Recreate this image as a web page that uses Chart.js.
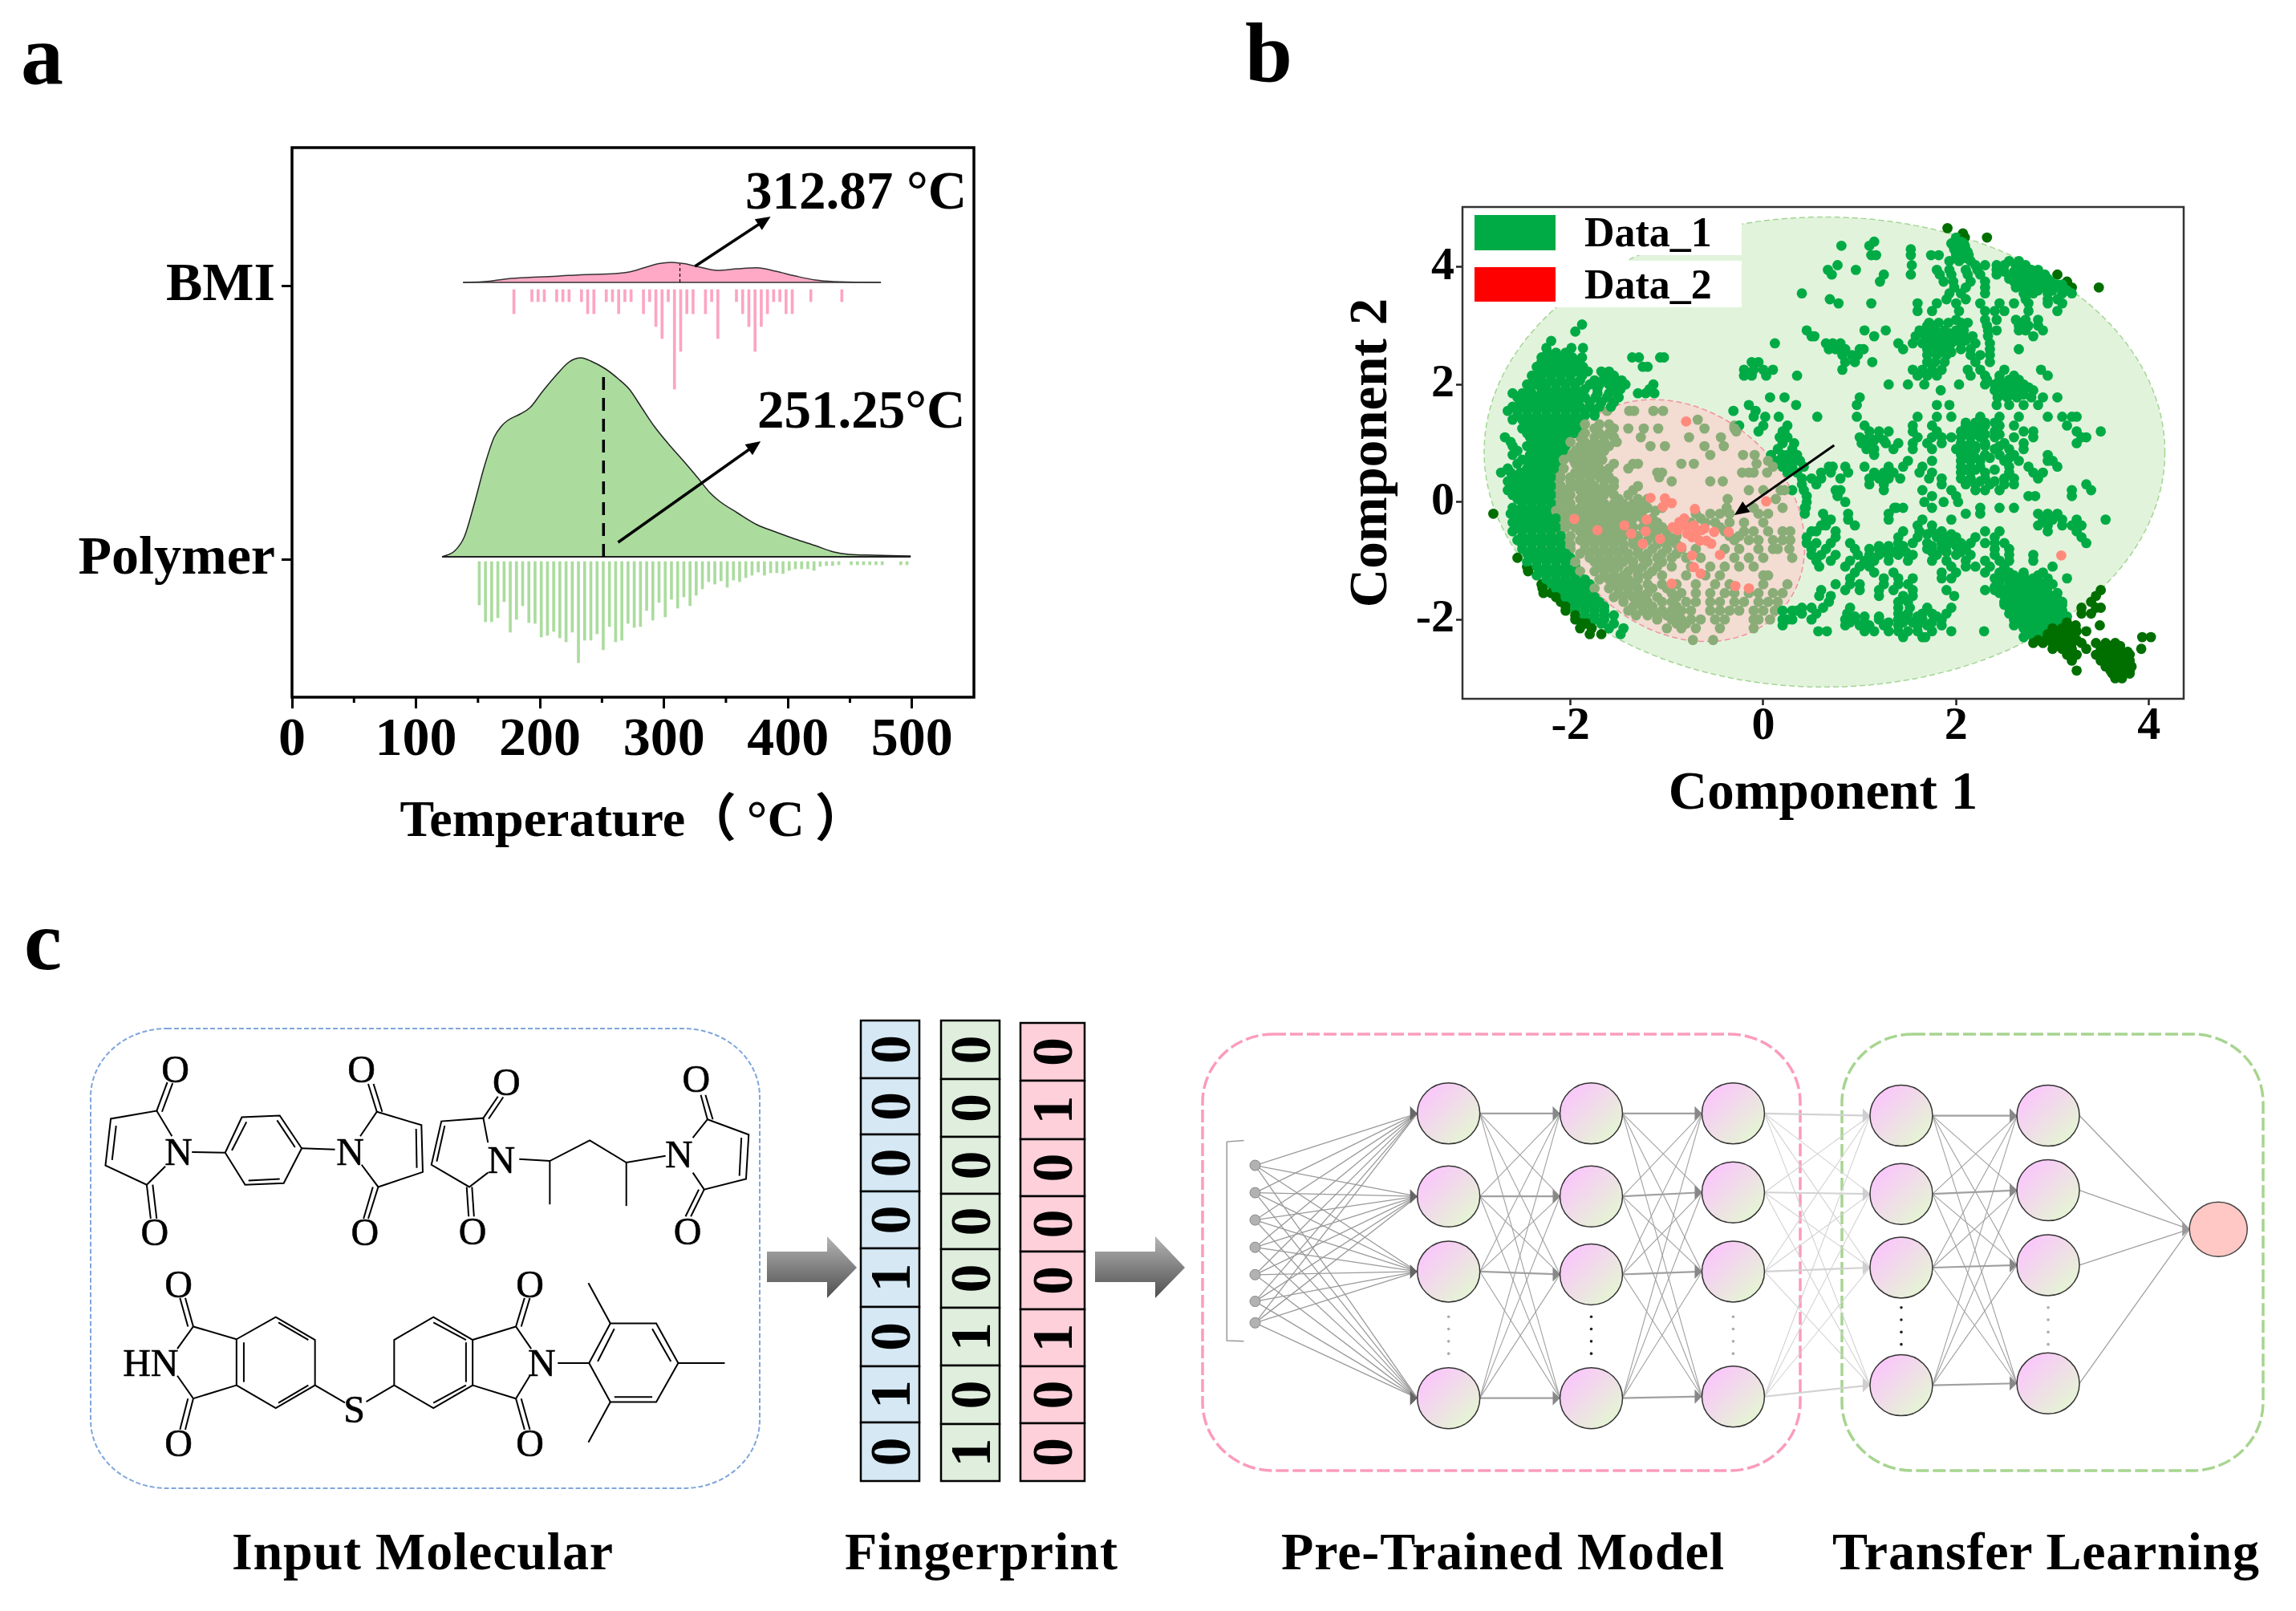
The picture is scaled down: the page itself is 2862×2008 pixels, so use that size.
<!DOCTYPE html>
<html>
<head>
<meta charset="utf-8">
<title>Figure</title>
<script src="https://cdn.jsdelivr.net/npm/chart.js@4"></script>
<style>
html, body { margin: 0; padding: 0; background: #fff; overflow: hidden; }
#page { position: relative; width: 2862px; height: 2008px; }
canvas { position: absolute; top: 0; }
#chartA { left: 0; }
#chartB { left: 1600px; }
svg { position: absolute; left: 0; top: 0; pointer-events: none; }
</style>
</head>
<body>
<div id="page">
  <canvas id="chartA" width="1430" height="1090"></canvas>
  <canvas id="chartB" width="1262" height="1090"></canvas>
  <svg id="diagram" width="2862" height="2008" xmlns="http://www.w3.org/2000/svg"></svg>
</div>
<script>
var SERIF = '"Liberation Serif", "Noto Sans CJK SC", serif';

// panel a: categories and ticks
var rowLabels = ['Polymer', 'BMI'];
var rowPositions = [0, 341];
var tempTicks = [0, 100, 200, 300, 400, 500];
var tempMinorTicks = [50, 150, 250, 350, 450];

// polymer density curve
var polymerTemp = [121, 131, 139, 147, 155, 163, 169, 174, 184, 192, 202, 214, 222, 227, 233, 241, 253, 263, 272, 282, 292, 304, 316, 327, 337, 345, 359, 375, 390, 406, 422, 437, 449, 469, 499];
var polymerDensity = [0, 7, 25, 66, 112, 149, 163, 170, 178, 186, 206, 228, 241, 246, 248, 244, 234, 222, 209, 186, 163, 140, 119, 99, 80, 69, 55, 40, 31, 22, 14, 6, 3, 2, 1];
// polymer histogram
var polymerBinTemp = [152, 157, 162, 167, 172, 177, 182, 187, 192, 197, 202, 207, 212, 217, 222, 227, 232, 237, 242, 247, 252, 257, 262, 267, 272, 277, 282, 287, 292, 297, 302, 307, 312, 317, 322, 327, 332, 337, 342, 347, 352, 357, 362, 367, 372, 377, 382, 387, 392, 397, 402, 407, 412, 417, 422, 427, 432, 437, 442, 452, 457, 462, 467, 472, 477, 492, 497];
var polymerBinCount = [54, 75, 75, 70, 50, 88, 72, 55, 76, 77, 94, 92, 87, 95, 100, 88, 126, 98, 98, 90, 110, 81, 100, 98, 77, 82, 81, 61, 73, 51, 69, 47, 58, 44, 55, 42, 34, 25, 28, 24, 32, 23, 25, 20, 17, 13, 17, 14, 14, 15, 11, 9, 9, 9, 11, 6, 5, 5, 4, 4, 4, 4, 4, 4, 4, 4, 4];
var polymerMean = 251.25;
var polymerMeanHeight = 234;

// BMI density curve
var bmiTemp = [138, 155, 174, 194, 214, 233, 261, 272, 284, 296, 306, 316, 327, 343, 359, 375, 390, 406, 422, 437, 475];
var bmiDensity = [0, 1, 4.6, 6.4, 7.8, 9.6, 11, 13, 18.3, 23.4, 25, 23.4, 19.7, 15, 17, 18.3, 14, 8, 3, 1, 0];
// BMI histogram
var bmiBinTemp = [178, 192.5, 197.5, 202.5, 212.5, 217.5, 222.5, 232.5, 237.5, 242.5, 252.5, 257.5, 262.5, 267.5, 272.5, 282.5, 287.5, 292.5, 297.5, 302.5, 307.5, 312.5, 317.5, 322.5, 332.5, 337.5, 342.5, 357.5, 362.5, 367.5, 372.5, 377.5, 382.5, 387.5, 392.5, 397.5, 402.5, 417.5, 442.5];
var bmiBinCount = [30, 15, 15, 15, 15, 15, 15, 15, 30, 30, 15, 15, 30, 15, 15, 30, 15, 46, 61, 15, 124, 77, 30, 30, 30, 15, 61, 15, 30, 46, 77, 46, 30, 15, 15, 30, 30, 15, 15];
var bmiMean = 312.87;
var bmiMeanHeight = 23;

// panel b ticks
var comp1Ticks = [-2, 0, 2, 4];
var comp2Ticks = [-2, 0, 2, 4];

// Data_1, each row is [component 2, component 1 values...]
var data1Rows = [
  [4.66, 1.91], [4.57, 2.07], [4.5, 2.0, 2.09, 2.32], [4.43, 1.15, 1.98, 2.05], [4.36, 0.81, 1.1, 1.97, 2.03, 2.09],
  [4.3, 1.53, 1.98, 2.05, 2.1], [4.2, 1.12, 1.17, 1.53, 1.74, 1.82, 2.0, 2.08, 2.13], [4.1, 1.93, 2.03, 2.15, 2.55, 2.65],
  [4.03, 0.77, 1.54, 2.2, 2.3, 2.42, 2.5, 2.62, 2.72], [3.95, 0.67, 0.96, 1.8, 1.93, 2.1, 2.22, 2.42, 2.68, 2.78, 2.85],
  [3.87, 0.71, 1.25, 1.53, 1.83, 1.95, 2.12, 2.25, 2.42, 2.6, 2.72, 2.82, 2.92, 3.05], [3.75, 1.21, 1.87, 1.97, 2.15, 2.3, 2.6, 2.68, 2.78, 2.88, 2.98, 3.15],
  [3.65, 1.98, 2.1, 2.3, 2.62, 2.72, 2.82, 2.92, 3.02, 3.2, 3.48], [3.55, 0.4, 1.93, 2.05, 2.3, 2.7, 2.8, 2.95, 3.1, 3.2], [3.45, 0.69, 1.9, 2.1, 2.72, 2.95, 3.05],
  [3.38, 0.78, 1.12, 1.6, 1.8, 2.0, 2.25, 2.45, 2.6, 2.75, 2.95, 3.1], [3.25, 1.6, 1.75, 2.03, 2.3, 2.4, 2.5, 2.75, 3.05], [3.1, 2.0, 2.3, 2.42, 2.62, 2.72, 2.85], [3.0, 1.7, 1.75, 2.32, 2.65, 2.75, 2.85],
  [2.92, 0.45, 1.05, 1.27, 1.62, 1.7, 1.78, 1.88, 2.0, 2.08, 2.33, 2.42, 2.65, 2.72, 2.9], [2.82, 0.5, 0.53, 1.15, 1.58, 1.68, 1.78, 1.88, 1.98, 2.08, 2.17, 2.33, 2.8],
  [2.7, 0.12, 0.65, 0.72, 0.8, 1.4, 1.55, 1.65, 1.75, 1.85, 1.95, 2.05, 2.2, 2.35], [2.6, 0.68, 0.75, 0.85, 1.0, 1.04, 1.45, 1.7, 1.8, 1.9, 2.05, 2.15, 2.35, 2.65],
  [2.5, 0.82, 0.92, 0.98, 1.7, 1.8, 1.9, 2.15, 2.25, 2.35], [2.38, -0.12, -0.05, 0.85, 0.95, 1.13, 1.7, 1.78, 1.88, 2.2, 2.35], [2.25, -0.2, -0.1, 0.0, 0.1, 0.82, 1.55, 1.65, 1.75, 1.85, 2.12, 2.25, 2.5, 2.88],
  [2.15, -0.2, -0.12, 0.03, 0.35, 1.6, 1.7, 1.8, 2.15, 2.3, 2.45, 2.6, 2.95], [2.0, 1.3, 1.5, 1.67, 2.03, 2.3, 2.4, 2.5, 2.6, 2.7], [1.9, 1.84, 2.4, 2.5, 2.6, 2.7, 2.8],
  [1.78, 0.07, 0.22, 1.0, 2.43, 2.53, 2.63, 2.78, 2.9, 3.05], [1.65, -0.15, 0.34, 0.97, 1.8, 1.93, 2.42, 2.55, 2.7, 2.85], [1.55, -0.31, -0.08],
  [1.45, -0.1, 0.02, 0.16, 0.56, 0.97, 1.6, 1.8, 1.95, 2.25, 2.45, 2.65, 2.95, 3.1, 3.2, 3.25], [1.3, -0.3, -0.25, 0.0, 0.25, 1.05, 1.55, 1.75, 2.1, 2.2, 2.3, 2.45, 2.6, 3.15],
  [1.2, -0.28, -0.05, 0.2, 0.22, 1.1, 1.2, 1.3, 1.55, 1.8, 2.05, 2.15, 2.25, 2.4, 2.7, 2.8, 3.25, 3.5], [1.1, 0.17, 0.25, 1.0, 1.1, 1.2, 1.6, 1.75, 1.85, 1.95, 2.05, 2.15, 2.25, 2.4, 2.6, 2.8, 3.3, 3.35],
  [1.0, 0.2, 0.32, 1.02, 1.12, 1.27, 1.4, 1.55, 1.7, 1.85, 2.05, 2.15, 2.3, 2.5, 2.7, 3.25], [0.9, 0.15, 0.3, 1.07, 1.15, 1.35, 1.55, 1.75, 2.0, 2.1, 2.2, 2.4, 2.55, 2.7],
  [0.8, 0.08, 0.2, 0.25, 0.35, 1.15, 2.05, 2.15, 2.3, 2.45, 2.6, 2.95], [0.7, 0.05, 0.15, 0.22, 0.3, 0.38, 1.5, 1.75, 2.05, 2.15, 2.25, 2.5, 2.65, 2.95, 3.0],
  [0.6, 0.1, 0.2, 0.3, 0.42, 0.68, 0.72, 0.85, 1.05, 1.3, 1.45, 1.65, 2.05, 2.15, 2.25, 2.55, 2.75, 3.05], [0.5, 0.25, 0.35, 0.6, 0.7, 0.88, 1.15, 1.25, 1.35, 1.62, 1.75, 2.05, 2.15, 2.3, 2.55, 2.8, 2.9],
  [0.4, 0.4, 0.5, 0.6, 0.8, 1.1, 1.2, 1.3, 1.42, 1.72, 1.85, 2.05, 2.15, 2.3, 2.5, 2.6, 2.85], [0.3, 0.4, 0.55, 1.1, 1.25, 1.85, 2.1, 2.2, 2.35, 2.5, 2.6, 3.35],
  [0.2, 0.3, 0.42, 0.75, 0.8, 1.25, 1.65, 1.95, 2.2, 2.3, 2.45, 3.2, 3.4], [0.1, 0.45, 0.77, 1.75, 2.0, 2.75, 2.82, 3.2], [0, 0.45, 0.85, 1.67, 1.87, 2.02],
  [-0.1, 0.43, 0.44, 1.36, 1.38, 1.45, 1.75, 2.25, 2.45, 2.6], [-0.2, 0.43, 0.62, 0.88, 1.3, 2.1, 2.25, 2.85, 2.95, 3.05], [-0.3, 0.65, 0.7, 0.88, 1.3, 1.65, 1.95, 2.9, 3.0, 3.1, 3.25, 3.55],
  [-0.4, 0.6, 0.65, 0.95, 1.6, 1.75, 2.85, 2.95, 3.1, 3.2, 3.3], [-0.5, 0.5, 0.55, 0.75, 1.45, 1.62, 1.75, 1.85, 2.3, 2.45, 2.95, 3.25], [-0.6, 0.45, 0.75, 1.4, 1.6, 1.8, 1.9, 2.0, 2.2, 2.4, 3.3],
  [-0.7, 0.45, 0.55, 0.7, 0.9, 1.4, 1.55, 1.7, 1.85, 2.05, 2.15, 2.3, 2.4, 2.5, 3.35], [-0.8, 0.5, 0.65, 0.95, 1.1, 1.2, 1.4, 1.7, 1.85, 2.1, 2.4, 2.55],
  [-0.9, 0.5, 0.6, 0.75, 0.98, 1.1, 1.2, 1.3, 1.4, 1.55, 1.8, 2.0, 2.15, 2.4, 2.55, 2.8], [-1.0, 0.55, 0.7, 0.9, 1.05, 1.15, 1.3, 1.5, 1.75, 1.9, 2.1, 2.3, 2.45, 2.55, 2.8],
  [-1.1, 0.58, 0.85, 1.0, 1.1, 1.95, 2.1, 2.2, 2.35, 2.5, 3.0], [-1.2, 0.95, 1.15, 1.35, 1.85, 2.0, 2.3, 2.45, 2.55, 2.7, 2.9], [-1.3, 0.9, 1.25, 1.4, 1.55, 1.85, 1.95, 2.4, 2.55, 2.65, 2.8, 2.95, 3.15],
  [-1.4, 0.75, 0.9, 1.0, 1.25, 1.4, 1.5, 2.45, 2.6, 2.7, 2.8, 2.9, 3.0], [-1.5, 0.6, 0.85, 1.0, 1.2, 1.35, 1.55, 1.9, 2.3, 2.4, 2.5, 2.6, 2.7, 2.8, 2.9, 3.5], [-1.6, 0.58, 0.7, 1.2, 1.45, 1.55, 1.98, 2.5, 2.6, 2.7, 2.8, 2.9, 3.0, 3.45],
  [-1.7, 0.68, 1.4, 1.5, 2.5, 2.6, 2.7, 2.8, 2.9, 3.0, 3.1, 3.4], [-1.8, 0.4, 0.5, 0.62, 0.9, 1.4, 1.52, 1.7, 1.95, 2.55, 2.65, 2.75, 2.85, 2.95, 3.05, 3.3, 3.45, 3.5], [-1.9, 0.4, 0.55, 0.87, 1.4, 1.5, 1.65, 1.75, 1.9, 2.55, 2.65, 2.75, 2.85, 2.95, 3.05, 3.3, 3.4],
  [-2.0, 0.2, 0.3, 0.5, 0.85, 0.95, 1.2, 1.4, 1.5, 1.65, 1.85, 2.6, 2.7, 2.8, 2.9, 3.0, 3.1], [-2.1, 0.2, 0.85, 1.0, 1.1, 1.25, 1.4, 1.6, 1.7, 1.85, 2.6, 2.7, 2.8, 2.9, 3.0, 3.1, 3.24, 3.49],
  [-2.2, 0.57, 0.66, 1.05, 1.15, 1.3, 1.4, 1.5, 1.6, 1.75, 1.95, 2.29, 2.75, 2.85, 2.95, 3.05, 3.15, 3.25, 3.35], [-2.3, 1.45, 1.65, 1.68, 2.7, 2.8, 2.9, 3.0, 3.1, 3.2, 3.93, 4.02],
  [-2.4, 2.8, 2.9, 3.0, 3.1, 3.2, 3.3, 3.45, 3.55, 3.65], [-2.5, 3.0, 3.1, 3.2, 3.35, 3.5, 3.6, 3.7, 3.92], [-2.6, 3.15, 3.25, 3.45, 3.55, 3.65, 3.75, 3.8], [-2.7, 3.2, 3.5, 3.6, 3.7, 3.8],
  [-2.8, 3.55, 3.65, 3.75, 3.82], [-2.87, 3.25, 3.6, 3.7, 3.8], [-3.0, 3.65, 3.72],
  // dense clusters on the right
  [4.4, 1.95, 2.02, 2.08], [4.25, 2.02, 2.07, 2.12], [4.15, 2.0, 2.1], [3.92, 2.5, 2.6, 2.75], [3.8, 2.55, 2.65, 2.75, 2.85, 2.95], [3.7, 2.65, 2.75, 2.85, 2.95, 3.05, 3.1], [3.6, 2.75, 2.85, 3.0, 3.15],
  [3.05, 1.72, 1.82, 1.92, 2.05, 2.12], [2.87, 1.65, 1.73, 1.83, 1.93, 2.03], [2.75, 1.7, 1.8, 1.9, 2.0, 2.1], [2.55, 1.72, 1.85, 1.95],
  [2.08, 2.32, 2.45, 2.55, 2.65], [1.95, 2.45, 2.55, 2.65, 2.75], [1.83, 2.5, 2.6, 2.7],
  [1.35, 2.1, 2.2, 2.3, 2.4], [1.15, 2.1, 2.2, 2.3, 2.45], [0.95, 2.1, 2.2, 2.3, 2.45], [0.75, 2.1, 2.2, 2.35, 2.55], [0.55, 2.1, 2.2, 2.4], [0.35, 2.1, 2.25, 2.4], [1.05, 1.05, 1.15, 1.25],
  [-0.55, 1.7, 1.8, 1.95], [-0.65, 1.85, 1.95], [-0.75, 1.75, 1.9, 2.0, 1.2, 1.3, 1.45], [-0.85, 1.75, 1.9, 2.05, 1.25, 1.35, 1.48],
  [-1.25, 2.5, 2.6, 2.7, 2.85], [-1.35, 2.45, 2.55, 2.65, 2.75, 2.85], [-1.45, 2.4, 2.55, 2.65, 2.75, 2.85, 2.95], [-1.55, 2.45, 2.55, 2.65, 2.75, 2.85, 2.95, 3.05], [-1.65, 2.55, 2.65, 2.75, 2.85, 2.95, 3.05], [-1.75, 2.5, 2.6, 2.7, 2.8, 2.9, 3.0, 3.1],
  [-1.85, 2.6, 2.7, 2.8, 2.9, 3.0, 3.1], [-1.95, 2.6, 2.7, 2.8, 2.9, 3.0, 3.15, 0.95, 1.05, 1.2, 1.45, 1.6, 1.8], [-2.05, 2.65, 2.75, 2.85, 2.95, 3.05, 3.15, 0.9, 1.05, 1.3, 1.45, 1.55, 1.75], [-2.15, 2.7, 2.8, 2.9, 3.0, 3.1, 3.2], [-2.25, 2.75, 2.85, 2.95, 3.05, 3.15], [-2.35, 2.85, 2.95, 3.05, 3.15, 3.25],
  [-2.45, 3.05, 3.15, 3.6, 3.7], [-2.55, 3.5, 3.6, 3.7, 3.78], [-2.65, 3.55, 3.65, 3.75], [-2.75, 3.6, 3.7, 3.78], [-2.92, 3.62, 3.72, 3.8],
  // dense band on the left
  [3.02, -1.88], [2.9, -1.95], [2.74, -2.2], [2.62, -2.25, -1.99, -1.87], [2.46, -2.3, -2.2, -2.1, -1.98, -1.88, -1.36, -1.29, -1.07, -1.03], [2.3, -2.35, -2.27, -2.17, -2.07, -1.97, -1.87, -1.2, -1.25],
  [2.15, -2.4, -2.3, -2.2, -2.1, -2.0, -1.88, -1.65, -1.55], [2.0, -2.45, -2.35, -2.25, -2.15, -2.05, -1.95, -1.8, -1.7, -1.6, -1.5, -1.43, -1.14], [1.85, -2.6, -2.5, -2.4, -2.3, -2.2, -2.1, -2.0, -1.9, -1.72, -1.6, -1.52, -1.3, -1.22, -1.13],
  [1.7, -2.52, -2.42, -2.32, -2.22, -2.12, -2.02, -1.92, -1.8, -1.68, -1.55], [1.55, -2.65, -2.55, -2.45, -2.35, -2.25, -2.15, -2.05, -1.95, -1.85, -1.75, -1.62, -1.39, -1.34, -1.14, -1.04], [1.4, -2.6, -2.5, -2.4, -2.3, -2.2, -2.1, -2.0, -1.9, -0.68],
  [1.25, -2.5, -2.4, -2.3, -2.2, -2.1, -2.0, -1.9, -1.75, -1.55, -1.4, -1.24, -1.09, -0.61, -0.3], [1.1, -2.68, -2.42, -2.32, -2.22, -2.12, -2.02, -1.9, -1.75, -1.65, -1.55, -1.27, -0.77, -0.44], [0.95, -2.6, -2.45, -2.35, -2.25, -2.15, -2.05, -1.9, -1.8, -1.7, -1.6, -1.17, -1.02, -0.61, -0.41],
  [0.8, -2.6, -2.42, -2.32, -2.22, -2.12, -2.0, -1.9, -1.8, -1.7, -0.55, -0.21, -0.09], [0.65, -2.55, -2.42, -2.32, -2.22, -2.12, -1.95, -1.85, -1.75, -1.55, -1.35, -1.3, -0.85, -0.72, -0.07], [0.5, -2.72, -2.62, -2.52, -2.42, -2.32, -2.22, -2.12, -1.95, -1.85, -1.75, -1.65, -1.1, -1.05, -0.22, -0.15, -0.1, 0.04],
  [0.35, -2.65, -2.55, -2.45, -2.35, -2.25, -2.15, -2.0, -1.9, -1.8, -1.65, -1.55, -0.95, -0.55, -0.42], [0.2, -2.65, -2.55, -2.45, -2.35, -2.25, -2.15, -2.05, -1.9, -1.8, -1.7, -1.6, -1.35, -0.15, 0.0, 0.18, 0.22], [0.05, -2.55, -2.45, -2.35, -2.25, -2.15, -2.05, -1.9, -1.8, -1.7, -1.5, -1.3, -1.2, -0.37, 0.13],
  [-0.1, -2.6, -2.5, -2.4, -2.3, -2.2, -2.1, -2.0, -1.9, -1.8, -1.7, -1.6, -1.5, -1.4, -1.3, -1.2, -1.05, -0.38, -0.1, 0.2], [-0.2, -2.8, -2.62, -2.52, -2.42, -2.32, -2.22, -2.12, -2.0, -1.9, -1.8, -1.7, -1.6, -1.5, -1.4, -1.3, -0.7, -0.55, -0.45, -0.35, -0.05, 0.05],
  [-0.35, -2.6, -2.5, -2.4, -2.3, -2.2, -2.1, -2.0, -1.9, -1.8, -1.7, -1.6, -1.5, -1.4, -1.2, -1.1, -0.75, -0.6, -0.5, -0.35, -0.2, 0.0], [-0.5, -2.6, -2.5, -2.4, -2.3, -2.2, -2.1, -1.9, -1.8, -1.7, -1.6, -1.5, -1.4, -1.2, -1.1, -1.0, -0.4, -0.2, -0.1, 0.05, 0.2, 0.28],
  [-0.65, -2.55, -2.45, -2.35, -2.25, -2.15, -2.05, -1.9, -1.8, -1.7, -1.6, -1.5, -1.35, -1.2, -1.05, -0.95, -0.3, -0.15, -0.05, 0.1, 0.2, 0.28], [-0.8, -2.5, -2.4, -2.3, -2.2, -2.1, -2.0, -1.85, -1.75, -1.65, -1.55, -1.45, -1.3, -1.15, -1.0, -0.85, -0.7, -0.4, -0.25, -0.05, 0.1, 0.15, 0.27],
  [-0.95, -2.55, -2.4, -2.3, -2.2, -2.1, -2.0, -1.8, -1.7, -1.6, -1.5, -1.4, -1.25, -1.1, -0.95, -0.8, -0.65, -0.3, -0.15, 0.0, 0.3], [-1.1, -2.45, -2.35, -2.25, -2.15, -2.05, -1.95, -1.7, -1.6, -1.5, -1.35, -1.25, -1.1, -0.95, -0.75, -0.55, -0.4, -0.25, -0.1],
  [-1.25, -2.35, -2.25, -2.15, -2.05, -1.95, -1.65, -1.55, -1.45, -1.3, -1.2, -1.05, -0.8, -0.6, -0.45, 0.0, 0.05], [-1.4, -2.3, -2.2, -2.1, -2.0, -1.9, -1.8, -1.55, -1.45, -1.35, -1.2, -1.05, -0.9, -0.7, -0.5, -0.35, 0.0, 0.25],
  [-1.55, -2.28, -2.2, -2.1, -2.0, -1.9, -1.8, -1.5, -1.4, -1.3, -1.2, -0.95, -0.85, -0.7, -0.55, -0.4, -0.3, -0.15, -0.05, 0.1, 0.2], [-1.7, -2.1, -2.0, -1.9, -1.8, -1.7, -1.45, -1.3, -1.2, -1.05, -0.95, -0.8, -0.7, -0.55, -0.45, -0.3, -0.2, -0.05, 0.05, 0.15],
  [-1.85, -2.05, -1.95, -1.85, -1.75, -1.65, -1.4, -1.25, -1.15, -1.05, -0.95, -0.85, -0.75, -0.55, -0.45, -0.35, -0.25, -0.1, 0.0, 0.12, 0.2, 0.3, 0.35], [-2.0, -1.95, -1.85, -1.75, -1.65, -1.1, -0.95, -0.85, -0.75, -0.65, -0.5, -0.4, -0.1, -0.05, 0.07, 0.25],
  [-2.15, -1.9, -1.78, -1.6, -1.45, -1.0, -0.85, -0.7, -0.45, -0.1], [-2.25, -1.8, -1.68, -1.48], [-2.35, -0.73, -0.52],
  [2.54, -2.24, -2.15, -2.05], [2.38, -2.3, -2.22, -2.12, -2.02, -1.92], [2.22, -2.33, -2.25, -2.15, -2.05, -1.95, -1.82, -1.68, -1.6], [2.07, -2.38, -2.3, -2.2, -2.1, -2.0, -1.9, -1.75, -1.66, -1.56, -1.47],
  [1.92, -2.42, -2.3, -2.25, -2.15, -2.05, -1.95, -1.85, -1.72, -1.55, -1.48, -1.18], [1.78, -2.55, -2.45, -2.35, -2.25, -2.15, -2.05, -1.95, -1.85, -1.74, -1.62, -1.5], [1.62, -2.6, -2.48, -2.4, -2.3, -2.2, -2.1, -2.0, -1.9, -1.8, -1.7, -1.58],
  [1.47, -2.55, -2.45, -2.35, -2.25, -2.15, -2.05, -1.95, -1.85, -1.75], [1.32, -2.45, -2.35, -2.25, -2.15, -2.05, -1.95, -1.85, -1.7, -1.6], [1.17, -2.45, -2.37, -2.27, -2.17, -2.07, -1.97, -1.85, -1.7, -1.6],
  [1.02, -2.62, -2.4, -2.3, -2.2, -2.1, -2.0, -1.85, -1.75, -1.65, -1.52], [0.87, -2.55, -2.38, -2.28, -2.18, -2.08, -1.95, -1.85, -1.75, -1.65], [0.72, -2.5, -2.37, -2.27, -2.17, -2.07, -1.97, -1.87, -1.77, -1.67],
  [0.57, -2.65, -2.45, -2.37, -2.27, -2.17, -2.07, -1.9, -1.8, -1.7, -1.6, -1.4], [0.42, -2.6, -2.5, -2.4, -2.3, -2.2, -2.1, -2.0, -1.9, -1.8, -1.7, -1.6, -1.08], [0.27, -2.6, -2.5, -2.4, -2.3, -2.2, -2.1, -2.0, -1.95, -1.85, -1.75, -1.65, -1.55, -1.3],
  [0.12, -2.6, -2.5, -2.4, -2.3, -2.2, -2.1, -2.0, -1.85, -1.75, -1.65, -1.55, -1.4], [-0.03, -2.5, -2.4, -2.3, -2.2, -2.1, -2.0, -1.85, -1.75, -1.65, -1.55, -1.45, -1.35, -1.25],
  [-0.15, -2.55, -2.45, -2.35, -2.25, -2.15, -2.05, -1.95, -1.85, -1.75, -1.65, -1.55, -1.45, -1.35, -1.25, -1.12], [-0.28, -2.55, -2.45, -2.35, -2.25, -2.15, -2.05, -1.95, -1.85, -1.75, -1.65, -1.55, -1.45, -1.35, -1.25, -1.15, -0.65],
  [-0.43, -2.55, -2.45, -2.35, -2.25, -2.15, -2.05, -1.95, -1.85, -1.75, -1.65, -1.55, -1.45, -1.35, -1.25, -1.15, -1.05, -0.45], [-0.58, -2.5, -2.4, -2.3, -2.2, -2.1, -2.0, -1.85, -1.75, -1.65, -1.55, -1.45, -1.3, -1.15, -1.0, -0.9, -0.35, -0.25],
  [-0.72, -2.5, -2.4, -2.3, -2.2, -2.1, -2.0, -1.85, -1.75, -1.65, -1.55, -1.45, -1.35, -1.25, -1.1, -1.0, -0.9], [-0.88, -2.45, -2.35, -2.25, -2.15, -2.05, -1.9, -1.8, -1.7, -1.6, -1.5, -1.4, -1.3, -1.2, -1.05, -0.9],
  [-1.02, -2.45, -2.35, -2.25, -2.15, -2.05, -1.95, -1.75, -1.65, -1.55, -1.45, -1.35, -1.2, -1.05], [-1.18, -2.44, -2.3, -2.2, -2.1, -2.0, -1.9, -1.75, -1.65, -1.55, -1.4, -1.3, -1.15], [-1.32, -2.25, -2.15, -2.05, -1.95, -1.85, -1.7, -1.6, -1.5, -1.4, -1.3],
  [-1.47, -2.29, -2.15, -2.05, -1.95, -1.85, -1.75, -1.6, -1.5, -1.4, -1.3, -1.15, -1.0], [-1.62, -2.15, -2.05, -1.95, -1.85, -1.75, -1.55, -1.45, -1.35, -1.25, -1.1, -0.9], [-1.78, -2.05, -1.95, -1.85, -1.75, -1.65, -1.35, -1.25, -1.15, -0.9],
  [-1.93, -1.95, -1.85, -1.75, -1.65, -1.55, -1.32, -1.2, -1.1, -1.0, -0.9], [-2.07, -1.88, -1.84, -1.68, -1.55, -0.9, -0.8]
];

// Data_2
var data2X = [-0.8, -1.96, -1.72, -1.17, -1.02, -1.04, -0.95, -0.71, 0.03, -1.44, -1.37, -1.21, -1.22, -1.07, -1.25, -0.94, -0.87, -0.82, -0.89, -0.79, -0.72, -0.61, -0.51, -0.36, -0.74, -0.66, -0.59, -0.85, -0.74, -0.45, -0.72, -0.65, -0.95, -0.29, -0.15, 3.09, -0.64, -0.79, -0.69, -0.54, -0.84];
var data2Y = [1.37, -0.29, -0.48, 0.07, 0.06, -0.08, -0.02, -0.12, 0.01, -0.4, -0.54, -0.3, -0.5, -0.63, -0.71, -0.43, -0.34, -0.28, -0.48, -0.43, -0.4, -0.45, -0.51, -0.51, -0.6, -0.66, -0.66, -0.77, -0.91, -0.9, -1.11, -1.22, -1.39, -1.43, -1.47, -0.91, -0.48, -0.54, -0.51, -0.71, -0.4];

// confidence ellipses in axis units
var greenEllipse = { cx: 0.635, cy: 0.85, rx: 3.53, ry: 4.0 };
var redEllipse = { cx: -0.867, cy: -0.316, a: 1.406, b: 1.131, angle: 40.6 };

// panel c
var bitsBlue = ['0', '0', '0', '0', '1', '0', '1', '0'];
var bitsGreen = ['0', '0', '0', '0', '0', '1', '0', '1'];
var bitsPink = ['0', '1', '0', '0', '0', '1', '0', '0'];

function arrowTo(ctx, x1, y1, x2, y2, w, head) {
    var t = Math.atan2(y2 - y1, x2 - x1);
    ctx.strokeStyle = '#000';
    ctx.fillStyle = '#000';
    ctx.lineWidth = w;
    ctx.beginPath();
    ctx.moveTo(x1, y1);
    ctx.lineTo(x2 - Math.cos(t) * head * 0.8, y2 - Math.sin(t) * head * 0.8);
    ctx.stroke();
    ctx.beginPath();
    ctx.moveTo(x2, y2);
    ctx.lineTo(x2 - head * Math.cos(t - 0.42), y2 - head * Math.sin(t - 0.42));
    ctx.lineTo(x2 - head * Math.cos(t + 0.42), y2 - head * Math.sin(t + 0.42));
    ctx.closePath();
    ctx.fill();
}

// frame, minor ticks, arrows and value labels of panel a
var panelAExtras = {
    id: 'panelAExtras',
    afterDraw: function(chart) {
        var ctx = chart.ctx, a = chart.chartArea, x = chart.scales.x, y = chart.scales.y;
        ctx.save();
        ctx.strokeStyle = '#000';
        ctx.lineWidth = 3.5;
        ctx.strokeRect(a.left, a.top, a.right - a.left, a.bottom - a.top);
        ctx.lineWidth = 3;
        tempMinorTicks.forEach(function(v) {
            var px = x.getPixelForValue(v);
            ctx.beginPath();
            ctx.moveTo(px, a.bottom);
            ctx.lineTo(px, a.bottom + 7);
            ctx.stroke();
        });
        arrowTo(ctx, x.getPixelForValue(263), y.getPixelForValue(21), x.getPixelForValue(378), y.getPixelForValue(147), 3.5, 20);
        arrowTo(ctx, x.getPixelForValue(325), y.getPixelForValue(365), x.getPixelForValue(386), y.getPixelForValue(427), 3.5, 20);
        ctx.fillStyle = '#000';
        ctx.font = 'bold 67px ' + SERIF;
        ctx.textBaseline = 'middle';
        ctx.fillText('312.87 °C', 929, 243);
        ctx.fillText('251.25°C', 944, 516);
        ctx.restore();
    }
};

function ellipsePath(chart, e) {
    var x = chart.scales.x, y = chart.scales.y, ctx = chart.ctx;
    var k = x.getPixelForValue(1) - x.getPixelForValue(0);
    var k2 = y.getPixelForValue(0) - y.getPixelForValue(1);
    ctx.beginPath();
    if (e.angle !== undefined) {
        ctx.ellipse(x.getPixelForValue(e.cx), y.getPixelForValue(e.cy), e.a * k, e.b * k, e.angle * Math.PI / 180, 0, Math.PI * 2);
    } else {
        ctx.ellipse(x.getPixelForValue(e.cx), y.getPixelForValue(e.cy), e.rx * k, e.ry * k2, 0, 0, Math.PI * 2);
    }
}

// ellipses below the points
var panelBEllipses = {
    id: 'panelBEllipses',
    beforeDatasetsDraw: function(chart) {
        var ctx = chart.ctx, a = chart.chartArea;
        ctx.save();
        ctx.beginPath();
        ctx.rect(a.left, a.top, a.right - a.left, a.bottom - a.top);
        ctx.clip();
        ctx.setLineDash([7, 4]);
        ctx.lineWidth = 1.5;
        ellipsePath(chart, greenEllipse);
        ctx.fillStyle = '#e2f3dc';
        ctx.fill();
        ctx.strokeStyle = '#a3d694';
        ctx.stroke();
        ellipsePath(chart, redEllipse);
        ctx.fillStyle = '#f3dcd2';
        ctx.fill();
        ctx.strokeStyle = '#f0919f';
        ctx.stroke();
        ctx.restore();
    },
    afterDraw: function(chart) {
        var ctx = chart.ctx, a = chart.chartArea, x = chart.scales.x, y = chart.scales.y;
        ctx.save();
        arrowTo(ctx, x.getPixelForValue(0.735), y.getPixelForValue(0.966), x.getPixelForValue(-0.3), y.getPixelForValue(-0.224), 3, 20);
        // legend
        ctx.fillStyle = '#fff';
        ctx.fillRect(a.left + 1, a.top + 1, 347, 59);
        ctx.fillRect(a.left + 1, a.top + 60, 207, 8);
        ctx.fillRect(a.left + 1, a.top + 67, 347, 58);
        ctx.fillStyle = '#00ab45';
        ctx.fillRect(a.left + 15, a.top + 10, 101, 44);
        ctx.fillStyle = '#ff0000';
        ctx.fillRect(a.left + 15, a.top + 75, 101, 43);
        ctx.fillStyle = '#000';
        ctx.font = 'bold 52px ' + SERIF;
        ctx.textBaseline = 'middle';
        ctx.fillText('Data_1', a.left + 152, a.top + 36);
        ctx.fillText('Data_2', a.left + 152, a.top + 101);
        ctx.strokeStyle = '#333';
        ctx.lineWidth = 2.5;
        ctx.strokeRect(a.left, a.top, a.right - a.left, a.bottom - a.top);
        ctx.restore();
    }
};

function insideEllipse(chart, px, py, e) {
    var x = chart.scales.x, y = chart.scales.y;
    var k = x.getPixelForValue(1) - x.getPixelForValue(0);
    var k2 = y.getPixelForValue(0) - y.getPixelForValue(1);
    var dx = px - x.getPixelForValue(e.cx), dy = py - y.getPixelForValue(e.cy);
    if (e.angle === undefined) {
        return dx * dx / (e.rx * k * e.rx * k) + dy * dy / (e.ry * k2 * e.ry * k2) <= 1;
    }
    var t = e.angle * Math.PI / 180;
    var u = dx * Math.cos(t) + dy * Math.sin(t), v = -dx * Math.sin(t) + dy * Math.cos(t);
    return u * u / (e.a * k * e.a * k) + v * v / (e.b * k * e.b * k) <= 1;
}

function data1Color(c) {
    if (!c.raw) return '#00ab45';
    var ch = c.chart, px = ch.scales.x.getPixelForValue(c.raw.x), py = ch.scales.y.getPixelForValue(c.raw.y);
    if (insideEllipse(ch, px, py, redEllipse)) return '#8aad78';
    if (insideEllipse(ch, px, py, greenEllipse)) return '#00ab45';
    return '#006f00';
}

var bigFont = { family: SERIF, size: 68, weight: 'bold' };

var rugTop = -3;
var polymerBase = 3;
var bmiTop = 336;
var bmiBase = 345;

function pairs(xs, ys, base) {
    return xs.map(function(v, i) { return { x: v, y: base + ys[i] }; });
}
function rug(xs, ys, top) {
    return xs.map(function(v, i) { return { x: v, y: [top - ys[i], top] }; });
}

new Chart(document.getElementById('chartA').getContext('2d'), {
    data: {
        datasets: [
            { type: 'line', data: pairs(polymerTemp, polymerDensity, polymerBase), borderColor: '#222', borderWidth: 1.5, backgroundColor: '#abdc9e', fill: { value: polymerBase }, pointRadius: 0, cubicInterpolationMode: 'monotone', order: 5 },
            { type: 'line', data: [{ x: 121, y: polymerBase }, { x: 499, y: polymerBase }], borderColor: '#222', borderWidth: 2, pointRadius: 0, order: 4 },
            { type: 'line', data: [{ x: polymerMean, y: polymerBase }, { x: polymerMean, y: polymerBase + polymerMeanHeight }], borderColor: '#000', borderWidth: 3.5, borderDash: [16, 10], pointRadius: 0, order: 3 },
            { type: 'bar', data: rug(polymerBinTemp, polymerBinCount, rugTop), backgroundColor: '#abdc9e', barThickness: 3, order: 6 },
            { type: 'line', data: pairs(bmiTemp, bmiDensity, bmiBase), borderColor: '#333', borderWidth: 1.5, backgroundColor: '#ffa9c6', fill: { value: bmiBase }, pointRadius: 0, cubicInterpolationMode: 'monotone', order: 5 },
            { type: 'line', data: [{ x: 138, y: bmiBase }, { x: 475, y: bmiBase }], borderColor: '#333', borderWidth: 1.5, pointRadius: 0, order: 4 },
            { type: 'line', data: [{ x: bmiMean, y: bmiBase }, { x: bmiMean, y: bmiBase + bmiMeanHeight }], borderColor: '#000', borderWidth: 1.2, borderDash: [4, 3], pointRadius: 0, order: 3 },
            { type: 'bar', data: rug(bmiBinTemp, bmiBinCount, bmiTop), backgroundColor: '#fca5c3', barThickness: 3, order: 6 }
        ]
    },
    options: {
        responsive: false,
        animation: false,
        devicePixelRatio: 1,
        layout: { padding: { top: 184, right: 216, bottom: 22 } },
        plugins: { legend: { display: false }, tooltip: { enabled: false } },
        scales: {
            x: {
                type: 'linear', min: 0, max: 550, offset: false,
                afterBuildTicks: function(s) { s.ticks = tempTicks.map(function(v) { return { value: v }; }); },
                afterFit: function(s) { s.height = 199; },
                border: { display: false },
                grid: { offset: false, drawOnChartArea: false, tickLength: 14, tickWidth: 3, tickColor: '#000' },
                ticks: { color: '#000', font: bigFont, padding: 0, maxRotation: 0, autoSkip: false },
                title: { display: true, text: 'Temperature（\u2009°C\u2009）', color: '#000', font: { family: SERIF, size: 64, weight: 'bold' }, padding: { top: 12 } }
            },
            y: {
                min: -172, max: 513,
                afterBuildTicks: function(s) { s.ticks = rowPositions.map(function(v) { return { value: v }; }); },
                afterFit: function(s) { s.width = 364; },
                border: { display: false },
                grid: { drawOnChartArea: false, tickLength: 13, tickWidth: 3, tickColor: '#000' },
                ticks: {
                    color: '#000', font: bigFont, padding: 8, autoSkip: false,
                    callback: function(v) { return rowLabels[rowPositions.indexOf(v)]; }
                }
            }
        }
    },
    plugins: [panelAExtras]
});

var data1Points = [];
data1Rows.forEach(function(row) {
    row.slice(1).forEach(function(v) { data1Points.push({ x: v, y: row[0] }); });
});

new Chart(document.getElementById('chartB').getContext('2d'), {
    type: 'scatter',
    data: {
        datasets: [
            { label: 'Data_1', data: data1Points, backgroundColor: data1Color, pointRadius: 6.4, borderWidth: 0, order: 2 },
            { label: 'Data_2', data: pairs(data2X, data2Y, 0), backgroundColor: '#ff8a7c', pointRadius: 6.4, borderWidth: 0, order: 1 }
        ]
    },
    options: {
        responsive: false,
        animation: false,
        devicePixelRatio: 1,
        layout: { padding: { top: 258, right: 140, left: 66, bottom: 55 } },
        plugins: { legend: { display: false }, tooltip: { enabled: false } },
        scales: {
            x: {
                type: 'linear', min: -3.12, max: 4.36,
                afterBuildTicks: function(s) { s.ticks = comp1Ticks.map(function(v) { return { value: v }; }); },
                afterFit: function(s) { s.height = 164; },
                border: { display: false },
                grid: { drawOnChartArea: false, tickLength: 8, tickWidth: 2.5, tickColor: '#222' },
                ticks: { color: '#000', font: { family: SERIF, size: 58, weight: 'bold' }, padding: -8, maxRotation: 0, autoSkip: false },
                title: { display: true, text: 'Component 1', color: '#000', font: { family: SERIF, size: 67, weight: 'bold' }, padding: { top: 4 } }
            },
            y: {
                min: -3.35, max: 5.02,
                afterBuildTicks: function(s) { s.ticks = comp2Ticks.map(function(v) { return { value: v }; }); },
                afterFit: function(s) { s.width = 157; },
                border: { display: false },
                grid: { drawOnChartArea: false, tickLength: 8, tickWidth: 2.5, tickColor: '#222' },
                ticks: { color: '#000', font: { family: SERIF, size: 58, weight: 'bold' }, padding: 2, autoSkip: false },
                title: { display: true, text: 'Component 2', color: '#000', font: { family: SERIF, size: 67, weight: 'bold' }, padding: { bottom: 4 } }
            }
        }
    },
    plugins: [panelBEllipses]
});

// ---- panel c and panel letters, drawn as svg ----
var svg = document.getElementById('diagram');
var NS = 'http://www.w3.org/2000/svg';

function el(name, attrs, text, parent) {
    var n = document.createElementNS(NS, name);
    Object.keys(attrs).forEach(function(k) { n.setAttribute(k, attrs[k]); });
    if (text !== undefined && text !== null) n.textContent = text;
    (parent || svg).appendChild(n);
    return n;
}

var defs = el('defs', {});
var nodeGrad = el('linearGradient', { id: 'nodeFill', x1: 0.1, y1: 0.1, x2: 0.9, y2: 0.9 }, null, defs);
el('stop', { offset: '0.1', 'stop-color': '#f9c9f9' }, null, nodeGrad);
el('stop', { offset: '0.9', 'stop-color': '#e6f2d6' }, null, nodeGrad);
var arrowGrad = el('linearGradient', { id: 'arrowFill', x1: 0, y1: 0, x2: 0, y2: 1 }, null, defs);
el('stop', { offset: '0', 'stop-color': '#b4b4b4' }, null, arrowGrad);
el('stop', { offset: '1', 'stop-color': '#4f4f4f' }, null, arrowGrad);

function label(txt, x, y, size, opts) {
    var a = { x: x, y: y, 'font-family': SERIF.replace(/"/g, "'"), 'font-weight': 'bold', 'font-size': size, fill: '#000', 'dominant-baseline': 'central' };
    Object.keys(opts || {}).forEach(function(k) { a[k] = opts[k]; });
    return el('text', a, txt);
}

label('a', 26, 68, 106);
label('b', 1552, 66, 106);
label('c', 30, 1172, 106);

// bottom captions
label('Input Molecular', 289, 1933, 66, { textLength: 475 });
label('Fingerprint', 1053, 1933, 66, { textLength: 340 });
label('Pre-Trained Model', 1597, 1933, 66, { textLength: 552 });
label('Transfer Learning', 2284, 1933, 66, { textLength: 532 });

// input molecule box
el('rect', { x: 113, y: 1282, width: 834, height: 573, rx: 95, ry: 85, fill: 'none', stroke: '#7fa6dc', 'stroke-width': 2, 'stroke-dasharray': '6 3' });

function M(x, y) { return [90 + x / 1.206, 1260 + y / 2.529]; }

var bonds = [
  [150,395,127,315,58,340,50,487,112,548,140,490], [66,362,60,470], [127,315,143,225], [135,318,151,228], [112,548,118,655], [121,548,127,655],
  [180,445,230,447,255,335,312,330,345,433,318,543,260,548,230,447], [262,350,240,440], [308,345,335,430], [265,535,312,530], [345,433,395,437],
  [433,395,458,318,525,360,527,508,460,555,435,485], [517,372,518,495], [458,318,445,230], [466,318,453,230], [460,555,445,655], [452,555,438,655],
  [625,415,618,338,555,348,540,485,597,555,625,510], [560,362,548,475], [618,338,640,270], [626,340,648,272], [593,555,596,648], [601,555,604,648],
  [672,467,718,473,778,408,833,478,892,457], [718,473,718,610], [833,478,833,615],
  [933,400,955,342,1017,390,1013,530,950,563,933,510], [1006,400,1003,520], [955,342,945,265], [963,342,952,265], [950,563,930,648], [942,563,922,648],
  [158,1065,182,995,247,1035,247,1180,182,1222,158,1150], [182,995,170,905], [174,995,162,905], [182,1222,170,1320], [174,1222,162,1320],
  [247,1035,306,965,365,1037,365,1180,306,1252,247,1180], [258,1045,258,1170], [310,982,355,1037], [310,1236,355,1180], [365,1180,410,1235], [442,1232,484,1180],
  [484,1180,484,1037,543,965,602,1037,602,1180,543,1252,484,1180], [543,982,592,1037], [592,1045,592,1170], [543,1236,592,1180],
  [602,1037,667,995,690,1065], [602,1180,667,1222,688,1150], [667,995,680,905], [675,995,688,905], [667,1222,680,1320], [675,1222,688,1320],
  [730,1110,777,1110,809,985,878,985,911,1110,878,1233,809,1233,777,1110], [815,1002,790,1105], [872,1002,900,1105], [815,1217,872,1217],
  [809,985,776,858], [809,1233,776,1360], [911,1110,981,1110]
];
bonds.forEach(function(b) {
    var pts = [];
    for (var i = 0; i < b.length; i += 2) pts.push(M(b[i], b[i + 1]).join(','));
    el('polyline', { points: pts.join(' '), fill: 'none', stroke: '#000', 'stroke-width': 2 });
});

var atoms = [
  ['O',155,183], ['O',124,697], ['N',160,445], ['N',418,443], ['O',435,183], ['O',440,698],
  ['O',653,225], ['O',602,694], ['N',645,470], ['N',912,452], ['O',938,213], ['O',925,695],
  ['O',160,860], ['O',160,1363], ['HN',118,1110], ['S',424,1255], ['O',688,860], ['O',688,1363], ['N',706,1110]
];
atoms.forEach(function(t) {
    var p = M(t[1], t[2]);
    label(t[0], p[0], p[1], 48, { 'text-anchor': 'middle', 'font-weight': 'normal', stroke: '#000', 'stroke-width': 0.6 });
});

// big grey arrows
function greyArrow(x) {
    el('polygon', {
        points: [[x, 1560], [x + 75, 1560], [x + 75, 1541], [x + 112, 1580], [x + 75, 1618], [x + 75, 1598], [x, 1598]].map(function(p) { return p.join(','); }).join(' '),
        fill: 'url(#arrowFill)'
    });
}
greyArrow(956);
greyArrow(1365);

// fingerprint columns
function fingerprint(bits, x, w, edges, fill) {
    bits.forEach(function(b, i) {
        el('rect', { x: x, y: edges[i], width: w, height: edges[i + 1] - edges[i], fill: fill, stroke: '#000', 'stroke-width': 2.5 });
        var cx = x + w / 2, cy = (edges[i] + edges[i + 1]) / 2;
        label(b, cx, cy, 72, { 'text-anchor': 'middle', transform: 'rotate(-90 ' + cx + ' ' + cy + ')' });
    });
}
fingerprint(bitsBlue, 1073, 73, [1272, 1344, 1414, 1485, 1556, 1629, 1703, 1773, 1846], '#d5e8f4');
fingerprint(bitsGreen, 1173, 73, [1272, 1345, 1417, 1488, 1557, 1630, 1702, 1775, 1846], '#dfeedd');
fingerprint(bitsPink, 1272, 80, [1275, 1347, 1420, 1491, 1560, 1632, 1703, 1774, 1846], '#fdd0da');

// model boxes
el('rect', { x: 1499, y: 1289, width: 745, height: 544, rx: 88, ry: 85, fill: 'none', stroke: '#fb9cbc', 'stroke-width': 3.5, 'stroke-dasharray': '16 5' });
el('rect', { x: 2296, y: 1289, width: 525, height: 544, rx: 88, ry: 85, fill: 'none', stroke: '#a7d590', 'stroke-width': 3.5, 'stroke-dasharray': '16 5' });

// network
function N(x, y) { return [1480 + x / 1.136, 1270 + y / 2.613]; }
var inputNodes = [477, 566, 655, 744, 833, 920, 990];
var layers = [
  { x: 370, ys: [308, 578, 823, 1235] },
  { x: 572, ys: [308, 578, 832, 1235] },
  { x: 773, ys: [308, 565, 823, 1230] },
  { x: 1011, ys: [315, 570, 810, 1193] },
  { x: 1219, ys: [315, 558, 802, 1187] }
];
var NODE_RX = 39, NODE_RY = 38;

function edge(p1, p2, color, w) {
    el('line', { x1: p1[0], y1: p1[1], x2: p2[0], y2: p2[1], stroke: color, 'stroke-width': w });
}
function head(p, color) {
    el('polygon', { points: [[p[0], p[1]], [p[0] - 9, p[1] - 9], [p[0] - 9, p[1] + 9]].map(function(q) { return q.join(','); }).join(' '), fill: color });
}

inputNodes.forEach(function(y) {
    var a = N(96, y);
    layers[0].ys.forEach(function(y2) {
        var b = N(370, y2);
        edge(a, [b[0] - NODE_RX, b[1]], '#9a9a9a', 1.3);
    });
});
layers[0].ys.forEach(function(y2) {
    var b = N(370, y2);
    head([b[0] - NODE_RX, b[1]], '#666');
});
for (var li = 0; li < layers.length - 1; li++) {
    var faint = li === 2;
    layers[li].ys.forEach(function(y1, i) {
        var a = N(layers[li].x, y1);
        layers[li + 1].ys.forEach(function(y2, j) {
            var b = N(layers[li + 1].x, y2);
            edge([a[0] + NODE_RX, a[1]], [b[0] - NODE_RX, b[1]], faint ? '#d2d2d2' : '#a0a0a0', i === j ? 2.2 : 1.1);
        });
    });
    layers[li + 1].ys.forEach(function(y2) {
        var b = N(layers[li + 1].x, y2);
        head([b[0] - NODE_RX, b[1]], faint ? '#cfcfcf' : '#888');
    });
}
var outNode = N(1460, 685);
layers[4].ys.forEach(function(y1) {
    var a = N(1219, y1);
    edge([a[0] + NODE_RX, a[1]], [outNode[0] - 36, outNode[1]], '#a0a0a0', 1.3);
});
head([outNode[0] - 36, outNode[1]], '#999');

layers.forEach(function(l, li) {
    l.ys.forEach(function(y) {
        var p = N(l.x, y);
        el('ellipse', { cx: p[0], cy: p[1], rx: NODE_RX, ry: NODE_RY, fill: 'url(#nodeFill)', stroke: '#333', 'stroke-width': 1.5 });
    });
    var dotColor = (li === 1 || li === 3) ? '#222' : '#aaa';
    [970, 1010, 1050, 1090].forEach(function(dy) {
        var d = N(l.x, li > 2 ? dy - 30 : dy);
        el('circle', { cx: d[0], cy: d[1], r: 1.8, fill: dotColor });
    });
});
el('ellipse', { cx: outNode[0], cy: outNode[1], rx: 36, ry: 34, fill: '#ffc8c4', stroke: '#444', 'stroke-width': 1.5 });

inputNodes.forEach(function(y) {
    var p = N(96, y);
    el('circle', { cx: p[0], cy: p[1], r: 6.5, fill: '#b2b2b2', stroke: '#888', 'stroke-width': 1 });
});
var br = [N(80, 396), N(56, 400), N(56, 1048), N(80, 1050)];
el('polyline', { points: br.map(function(p) { return p.join(','); }).join(' '), fill: 'none', stroke: '#999', 'stroke-width': 1.5 });
</script>
</body>
</html>
